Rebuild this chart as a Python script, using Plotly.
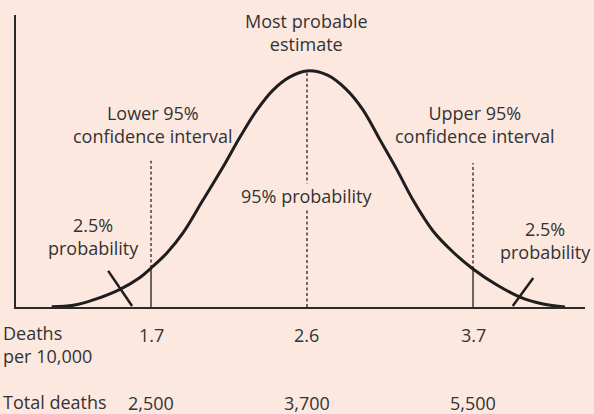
import plotly.graph_objects as go

# ---- data (schematic normal distribution) ----
# position along the baseline (0-100 scale) and relative probability density (peak = 1)
curve_pos = [6.27, 10.07, 13.59, 18.28, 21.79, 23.73, 26.48, 29.35, 32.86, 36.38, 39.37,
             42.36, 45.17, 48.15, 51.14, 54.66, 58.17, 60.98, 63.97, 66.96, 69.77,
             73.29, 76.80, 80.32, 84.53, 88.58, 92.62, 96.49]
curve_density = [0.001, 0.007, 0.030, 0.075, 0.125, 0.165, 0.228, 0.314, 0.453, 0.593, 0.720,
                 0.835, 0.919, 0.975, 1.0, 0.983, 0.919, 0.835, 0.708, 0.581, 0.453,
                 0.322, 0.233, 0.161, 0.093, 0.042, 0.013, 0.0]

marker_pos = [23.73, 51.14, 80.32]         # lower CI, estimate, upper CI
marker_density = [0.165, 1.0, 0.161]       # curve height at each marker
guide_top = [0.62, 1.0, 0.61]              # top of dashed guide
deaths_per_10000 = ["1.7", "2.6", "3.7"]
total_deaths = ["2,500", "3,700", "5,500"]

BG = "#fde8e0"
INK = "#1e1e1e"
TXT = "#333333"
FONT = "Open Sans"

fig = go.Figure()

# dashed guides
for i, p in enumerate(marker_pos):
    lo = 0 if i == 1 else marker_density[i]
    fig.add_trace(go.Scatter(x=[p, p], y=[lo, guide_top[i]], mode="lines",
                             line=dict(color="#333333", width=1.4, dash="3px,2.5px"),
                             hoverinfo="skip", showlegend=False))
# solid CI segments below the curve
for i in (0, 2):
    p = marker_pos[i]
    fig.add_trace(go.Scatter(x=[p, p], y=[0, marker_density[i]], mode="lines",
                             line=dict(color="#444444", width=1.6),
                             hoverinfo="skip", showlegend=False))

# the curve
fig.add_trace(go.Scatter(x=curve_pos, y=curve_density, mode="lines",
                         line=dict(color=INK, width=3, shape="spline", smoothing=1.0),
                         hoverinfo="skip", showlegend=False))

# tail slashes
fig.add_trace(go.Scatter(x=[16.2, 20.4], y=[0.153, 0.004], mode="lines",
                         line=dict(color=INK, width=2.5), hoverinfo="skip", showlegend=False))
fig.add_trace(go.Scatter(x=[90.9, 87.3], y=[0.123, 0.004], mode="lines",
                         line=dict(color=INK, width=2.5), hoverinfo="skip", showlegend=False))

f = dict(family=FONT, size=18, color=TXT)

def ann(text, x, y, xanchor="center", align="center", bg=None, xref="x", yref="y"):
    fig.add_annotation(text=text, x=x, y=y, xref=xref, yref=yref, showarrow=False,
                       xanchor=xanchor, yanchor="middle", align=align, font=f,
                       bgcolor=bg, borderpad=0)

ann("Most probable<br>estimate", 51.14, 1.161)
ann("Lower 95%<br>confidence interval", 24.1, 0.775)
ann("Upper 95%<br>confidence interval", 80.7, 0.775)
ann("95% probability", 51.14, 0.47, bg=BG)
ann("2.5%<br>probability", 13.7, 0.297)
ann("2.5%<br>probability", 1.0123, 0.28, xanchor="right", xref="paper")

ann("Deaths<br>per 10,000", -0.0246, -0.127, xanchor="left", align="left",
    xref="paper", yref="paper")
ann("Total deaths", -0.0246, -0.324, xanchor="left", align="left",
    xref="paper", yref="paper")
for p, a, b in zip(marker_pos, deaths_per_10000, total_deaths):
    ann(a, p, -0.0959, yref="paper")
    ann(b, p, -0.328, yref="paper")

fig.update_layout(
    width=594, height=414,
    margin=dict(l=16, r=9, t=15, b=107),
    paper_bgcolor=BG, plot_bgcolor=BG,
    xaxis=dict(range=[0, 100], showgrid=False, zeroline=False, showticklabels=False,
               ticks="", showline=True, linecolor="#2a2a2a", linewidth=2, fixedrange=True),
    yaxis=dict(range=[0, 1.237], showgrid=False, zeroline=False, showticklabels=False,
               ticks="", showline=True, linecolor="#2a2a2a", linewidth=1.6, fixedrange=True),
    showlegend=False,
)

fig.write_html("out.html", config={"displayModeBar": False},
               post_script="document.body.style.margin='0';"
                           "document.body.style.background='" + BG + "';")
